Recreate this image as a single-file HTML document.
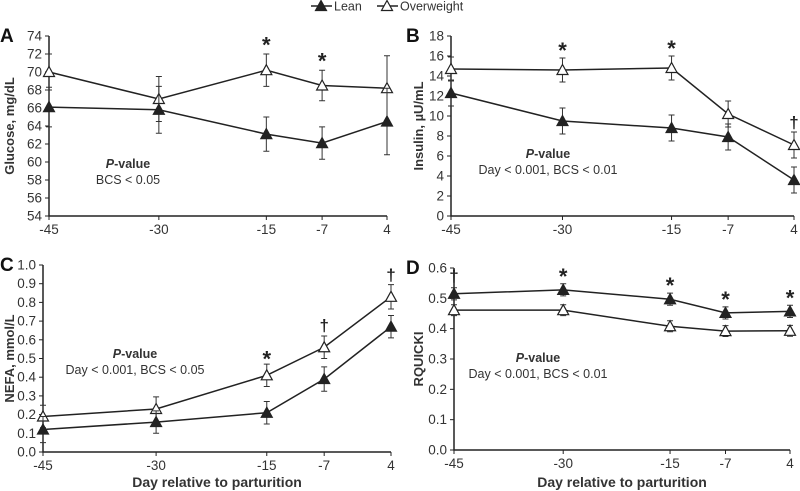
<!DOCTYPE html>
<html><head><meta charset="utf-8"><style>
body{margin:0;background:#fff;}
svg{display:block;font-family:"Liberation Sans",Arial,sans-serif;}
</style></head><body>
<svg id="chart" width="800" height="491"></svg>
<script>
const days = [-45, -30, -15, -7, 4];
const dayFrac = [0, 0.325, 0.643, 0.808, 1];
const glucoseLean = [66.1, 65.8, 63.1, 62.1, 64.5];
const glucoseLeanErr = [2.2, 2.6, 1.9, 1.8, 3.7];
const glucoseOver = [70.0, 67.0, 70.2, 68.5, 68.2];
const glucoseOverErr = [2.0, 2.5, 1.8, 1.7, 3.6];
const insulinLean = [12.3, 9.5, 8.8, 7.9, 3.6];
const insulinLeanErr = [1.3, 1.3, 1.3, 1.3, 1.3];
const insulinOver = [14.7, 14.6, 14.8, 10.2, 7.1];
const insulinOverErr = [1.2, 1.2, 1.2, 1.3, 1.3];
const nefaLean = [0.12, 0.16, 0.21, 0.39, 0.67];
const nefaLeanErr = [0.07, 0.06, 0.06, 0.065, 0.06];
const nefaOver = [0.19, 0.23, 0.41, 0.56, 0.83];
const nefaOverErr = [0.06, 0.065, 0.06, 0.06, 0.065];
const rqLean = [0.515, 0.528, 0.497, 0.452, 0.457];
const rqLeanErr = [0.02, 0.02, 0.02, 0.02, 0.02];
const rqOver = [0.461, 0.461, 0.408, 0.392, 0.393];
const rqOverErr = [0.018, 0.018, 0.018, 0.018, 0.018];
const glucoseTicks = [54,56,58,60,62,64,66,68,70,72,74];
const insulinTicks = [0,2,4,6,8,10,12,14,16,18];
const nefaTicks = ["0.0","0.1","0.2","0.3","0.4","0.5","0.6","0.7","0.8","0.9","1.0"];
const rqTicks = ["0.0","0.1","0.2","0.3","0.4","0.5","0.6"];

const NS = "http://www.w3.org/2000/svg";
const svg = document.getElementById('chart');
function mk(tag, attrs, parent, text){
  const e = document.createElementNS(NS, tag);
  for (const k in attrs) e.setAttribute(k, attrs[k]);
  if (text !== undefined) e.textContent = text;
  (parent || svg).appendChild(e);
  return e;
}
function tri(g, cx, cy, filled){
  const p = mk('polygon', {points:`${cx},${cy-5.5} ${cx-5.5},${cy+4.5} ${cx+5.5},${cy+4.5}`, fill: filled?'#222':'#fff', stroke:'#222','stroke-width':1.2}, g);
  
  
}
const C = '#333';
function panel(cfg){
  const g = mk('g', {}, svg);
  
  
  const {x0, x1, yTop, yBot, min, max} = cfg;
  const xs = i => x0 + dayFrac[i] * (x1 - x0);
  const ys = v => yBot - (v - min) / (max - min) * (yBot - yTop);
  const ax = mk('path', {d:`M${x0},${yTop} V${yBot} H${x1}`, stroke:'#222', 'stroke-width':1.5, fill:'none'}, g);
  
  
  cfg.ticks.forEach(t => {
    const y = ys(parseFloat(t));
    mk('line', {x1:x0-4, x2:x0, y1:y, y2:y, stroke:'#222'}, g);
    const tl = mk('text', {x:x0-7, y:y+4.5, 'text-anchor':'end', 'font-size':13.5, fill:C}, g, t);
    
    
  });
  days.forEach((d, i) => {
    const x = xs(i);
    mk('line', {x1:x, x2:x, y1:yBot, y2:yBot+4, stroke:'#222'}, g);
    const tl = mk('text', {x:x, y:yBot+18, 'text-anchor':'middle', 'font-size':13.5, fill:C}, g, String(d));
    
    
  });
  const lbl = mk('text', {x:cfg.lx, y:yTop+6, 'font-size':19, 'font-weight':'bold', fill:'#111'}, g, cfg.letter);
  
  
  const yt = mk('text', {x:0, y:0, transform:`translate(${cfg.ytx},${(yTop+yBot)/2}) rotate(-90)`, 'text-anchor':'middle', 'font-size':13, 'font-weight':'bold', fill:C}, g, cfg.ytitle);
  
  
  if (cfg.xtitle){
    const xt = mk('text', {x:(x0+x1)/2, y:487, 'text-anchor':'middle', 'font-size':14, 'font-weight':'bold', fill:C}, g, 'Day relative to parturition');
    
    
  }
  [[cfg.over, cfg.overErr, false], [cfg.lean, cfg.leanErr, true]].forEach(([vals, errs, filled]) => {
    const sg = mk('g', {}, g);
    
    
    mk('polyline', {points: vals.map((v,i)=>`${xs(i)},${ys(v)}`).join(' '), fill:'none', stroke:'#222', 'stroke-width':1.5}, sg);
    vals.forEach((v,i) => {
      const x = xs(i), a = ys(v+errs[i]), b = ys(v-errs[i]);
      mk('path', {d:`M${x},${a} V${b} M${x-3},${a} H${x+3} M${x-3},${b} H${x+3}`, stroke:'#333', 'stroke-width':1}, sg);
    });
    vals.forEach((v,i) => tri(sg, xs(i), ys(v), filled));
  });
  cfg.marks.forEach(([i, sym, v]) => {
    const m = mk('text', {x:xs(i), y:ys(v)+(sym==='*'?10:6), 'text-anchor':'middle', 'font-size':sym==='*'?22:17, 'font-weight':'bold', fill:'#222'}, g, sym);
    
    
  });
  const p1 = mk('text', {x:cfg.px, y:cfg.py, 'text-anchor':'middle', 'font-size':12.5, 'font-weight':'bold', fill:C}, g);
  
  
  mk('tspan', {'font-style':'italic'}, p1, 'P');
  mk('tspan', {}, p1, '-value');
  const p2 = mk('text', {x:cfg.px, y:cfg.py+16, 'text-anchor':'middle', 'font-size':12.5, fill:C}, g, cfg.ptext);
  
  
}
panel({name:'panel-a-glucose', letter:'A', lx:0, ytx:14, x0:49, x1:387, yTop:36, yBot:216, min:54, max:74, ticks:glucoseTicks.map(String), ytitle:'Glucose, mg/dL', lean:glucoseLean, leanErr:glucoseLeanErr, over:glucoseOver, overErr:glucoseOverErr, marks:[[2,'*',73.3],[3,'*',71.5]], px:128, py:168, ptext:'BCS < 0.05'});
panel({name:'panel-b-insulin', letter:'B', lx:406, ytx:423, x0:451, x1:794, yTop:36, yBot:216, min:0, max:18, ticks:insulinTicks.map(String), ytitle:'Insulin, µU/mL', lean:insulinLean, leanErr:insulinLeanErr, over:insulinOver, overErr:insulinOverErr, marks:[[1,'*',16.8],[2,'*',17.0],[4,'†',9.4]], px:548, py:158, ptext:'Day < 0.001, BCS < 0.01'});
panel({name:'panel-c-nefa', letter:'C', lx:0, ytx:14, x0:43, x1:391, yTop:265, yBot:452, min:0, max:1, ticks:nefaTicks, ytitle:'NEFA, mmol/L', lean:nefaLean, leanErr:nefaLeanErr, over:nefaOver, overErr:nefaOverErr, marks:[[2,'*',0.51],[3,'†',0.68],[4,'†',0.95]], px:135, py:358, ptext:'Day < 0.001, BCS < 0.05', xtitle:true});
panel({name:'panel-d-rquicki', letter:'D', lx:406, ytx:423, x0:454, x1:790, yTop:268, yBot:450, min:0, max:0.6, ticks:rqTicks, ytitle:'RQUICKI', lean:rqLean, leanErr:rqLeanErr, over:rqOver, overErr:rqOverErr, marks:[[0,'†',0.575],[1,'*',0.58],[2,'*',0.55],[3,'*',0.505],[4,'*',0.51]], px:538, py:362, ptext:'Day < 0.001, BCS < 0.01', xtitle:true});
const lg = mk('g', {}, svg);


mk('line', {x1:311, x2:332, y1:6, y2:6, stroke:'#222', 'stroke-width':1.5}, lg);
tri(lg, 321, 6, true);
mk('text', {x:334, y:10.5, 'font-size':12.5, fill:C}, lg, 'Lean');
mk('line', {x1:377, x2:398, y1:6, y2:6, stroke:'#222', 'stroke-width':1.5}, lg);
tri(lg, 387, 6, false);
mk('text', {x:400, y:10.5, 'font-size':12.5, fill:C}, lg, 'Overweight');
</script>
</body></html>
